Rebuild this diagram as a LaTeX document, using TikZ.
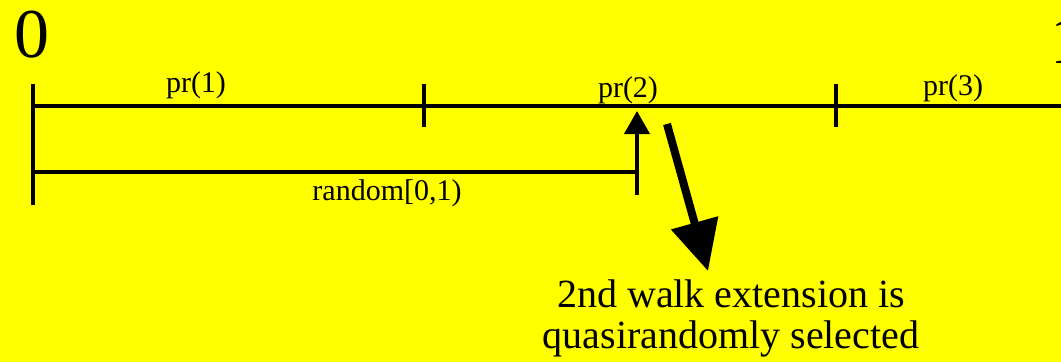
\documentclass[tikz,border=0pt]{standalone}
\usepackage{fontspec}
\setmainfont{Liberation Serif}
\usepackage{tikz}
\usetikzlibrary{arrows.meta, positioning, calc}
\definecolor{bgyellow}{RGB}{255,255,0}
\tikzset{
  axis/.style={line width=4.5pt},
  tickmark/.style={line width=4.5pt},
  prlabel/.style={inner sep=0pt, font=\fontsize{30}{32}\selectfont},
  pick/.style={line width=4pt, -{Triangle[length=23pt, width=25pt]}},
  bigarrow/.style={line width=8pt, -{Triangle[length=50pt, width=47pt]}}
}

\begin{document}
\begin{tikzpicture}[x=1pt, y=-1pt]
        % Background
        \fill[bgyellow] (0,0) rectangle (1061,362);
        \useasboundingbox (0,0) rectangle (1061,362);

        % End labels
        \node[inner sep=0pt, font=\fontsize{70}{72}\selectfont] (zero) at (32,35) {0};
        \node[inner sep=0pt, anchor=west, font=\fontsize{70}{72}\selectfont] (one) at (1050,40) {1};

        % Interval line
        \coordinate (start) at (33,106);
        \coordinate (end)   at (1070,106);
        \draw[axis] (start) -- (end);
        \draw[tickmark] (33,84) -- (33,205);
        \draw[tickmark] (424,84) -- (424,127);
        \draw[tickmark] (836,84) -- (836,127);

        % Probabilities
        \node[prlabel] (pr1) at (196,85) {pr(1)};
        \node[prlabel] (pr2) at (628,90) {pr(2)};
        \node[prlabel] (pr3) at (953,88) {pr(3)};

        % Random draw
        \coordinate (rstart) at (33,172);
        \coordinate (rend)   at (637,172);
        \draw[axis] (rstart) -- (rend);
        \coordinate (rlow) at (637,195);
        \coordinate (rhit) at (637,111);
        \draw[pick] (rlow) -- (rhit);
        \node[prlabel] (rnd) at (387,193) {random[0,1)};

        % Selection
        \node[inner sep=0pt, align=center, font=\fontsize{40}{41}\selectfont] (note) at (731,318)
          {2nd walk extension is\\quasirandomly selected};
        \coordinate (from) at (667,124);
        \coordinate (to)   at (708,271);
        \draw[bigarrow] (from) -- (to);
    \end{tikzpicture}
\end{document}
